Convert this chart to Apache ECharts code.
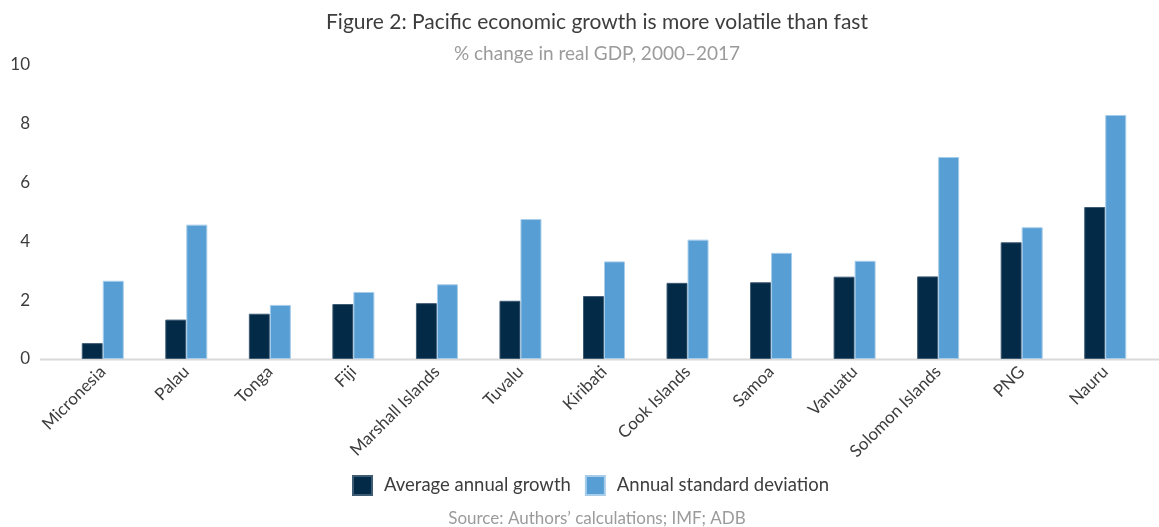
<!DOCTYPE html>
<html>
<head>
<meta charset="utf-8">
<script src="https://cdn.jsdelivr.net/npm/echarts@6/dist/echarts.min.js"></script>
<style>html,body{margin:0;padding:0;background:#fff}#c{width:1159px;height:527px}</style>
</head>
<body>
<div id="c"></div>
<script>
const categories = ['Micronesia','Palau','Tonga','Fiji','Marshall Islands','Tuvalu','Kiribati','Cook Islands','Samoa','Vanuatu','Solomon Islands','PNG','Nauru'];
const avgGrowth = [0.54,1.34,1.54,1.87,1.90,1.98,2.14,2.59,2.61,2.80,2.81,3.97,5.17];
const stdDev = [2.66,4.57,1.84,2.28,2.54,4.76,3.32,4.06,3.61,3.34,6.87,4.48,8.30];
const yTicks = [0,2,4,6,8,10];
const titleText = 'Figure 2: Pacific economic growth is more volatile than fast';
const subtitleText = '% change in real GDP, 2000\u20132017';
const sourceText = 'Source: Authors\u2019 calculations; IMF; ADB';
const seriesNames = ['Average annual growth','Annual standard deviation'];

const FONT = 'Lato';
const CX = 597;
const chart = echarts.init(document.getElementById('c'));
chart.setOption({
  animation:false,
  textStyle:{fontFamily:FONT},
  legend:{
    data:seriesNames,left:352,top:475,padding:0,itemWidth:19,itemHeight:19,itemGap:14,icon:'rect',
    textStyle:{fontFamily:FONT,fontSize:18.5,color:'#3d3d3d',padding:[0,0,0,7]}
  },
  grid:{left:61,right:12,top:65,bottom:168,containLabel:false},
  xAxis:{
    type:'category',data:categories,
    axisLine:{show:false},axisTick:{show:false},
    axisLabel:{rotate:45,fontSize:17,color:'#3d3d3d',margin:10,interval:0,fontFamily:FONT}
  },
  yAxis:{
    type:'value',min:0,max:10,interval:2,
    axisLine:{show:false},axisTick:{show:false},splitLine:{show:false},
    axisLabel:{fontSize:17,color:'#3d3d3d',margin:31,fontFamily:FONT,
      formatter:v=>yTicks.includes(v)?String(v):''}
  },
  graphic:[
    {type:'line',shape:{x1:40,y1:359.5,x2:1159,y2:359.5},style:{stroke:'#d9d9d9',lineWidth:2},z:0},
    {type:'text',x:CX,y:22,style:{text:titleText,textAlign:'center',textVerticalAlign:'middle',font:'21px '+FONT,fill:'#3d3d3d'}},
    {type:'text',x:CX,y:54,style:{text:subtitleText,textAlign:'center',textVerticalAlign:'middle',font:'19px '+FONT,fill:'#9b9b9b'}},
    {type:'text',x:CX,y:519,style:{text:sourceText,textAlign:'center',textVerticalAlign:'middle',font:'17px '+FONT,fill:'#9b9b9b'}}
  ],
  series:[
    {name:seriesNames[0],type:'bar',data:avgGrowth,barWidth:21,barGap:'0%',
      itemStyle:{color:'#032a47',borderColor:'#3f5c75',borderWidth:1},z:2},
    {name:seriesNames[1],type:'bar',data:stdDev,barWidth:21,barGap:'0%',
      itemStyle:{color:'#569ed3',borderColor:'#a8cdea',borderWidth:1},z:2}
  ]
});
</script>
</body>
</html>
